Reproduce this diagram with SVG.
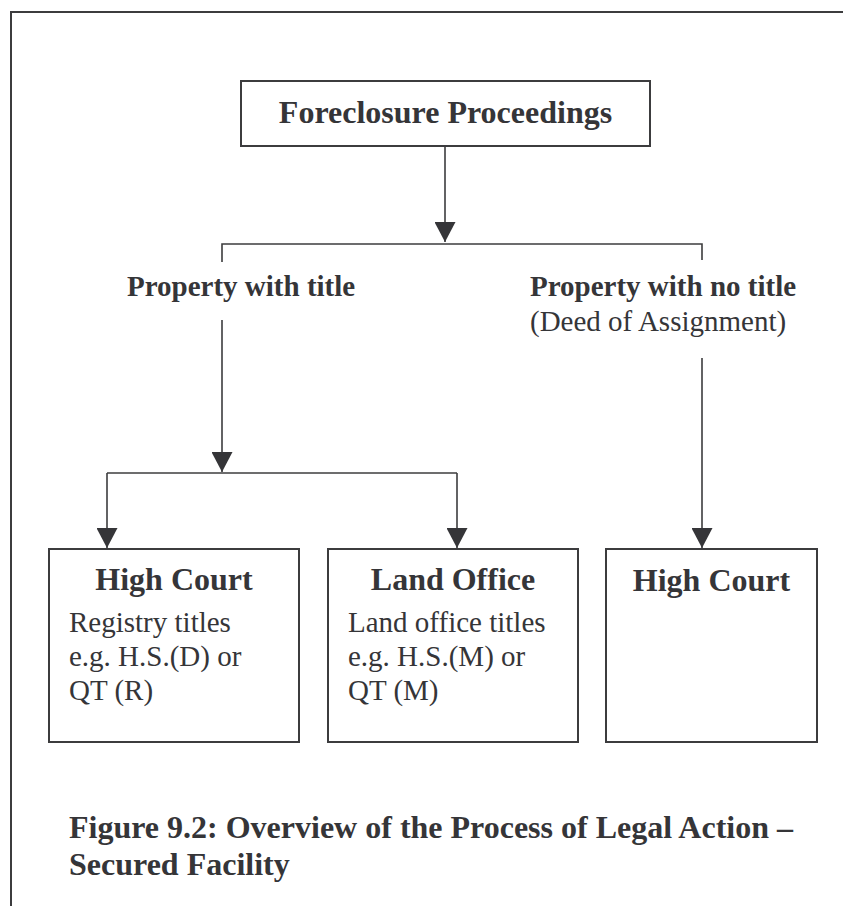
<svg xmlns="http://www.w3.org/2000/svg" width="843" height="906" viewBox="0 0 843 906">
<defs>
<marker id="arr" markerUnits="userSpaceOnUse" markerWidth="20" markerHeight="21" viewBox="0 0 20 21" refX="20" refY="10.5" orient="auto">
<path d="M0,0 L20,10.5 L0,21 Z" fill="#353538"/>
</marker>
<style>
text{font-family:"Liberation Serif","Times New Roman",serif;fill:#353538}
.b{font-weight:bold}
.t32{font-size:32px}
.t29{font-size:29px}
.box{fill:#fff;stroke:#3c3c3e;stroke-width:2}
.conn{fill:none;stroke:#3c3c3e;stroke-width:1.6}
.frame{fill:none;stroke:#3c3c3e;stroke-width:2}
</style>
</defs>
<rect width="843" height="906" fill="#fff"/>
<path class="frame" d="M11,906 V12 H843"/>
<g id="connectors">
<path class="conn" d="M445,146 V242" marker-end="url(#arr)"/>
<path class="conn" d="M222,262 V244 H702 V260"/>
<path class="conn" d="M222,320 V472" marker-end="url(#arr)"/>
<path class="conn" d="M107,473 H457"/>
<path class="conn" d="M107,473 V548" marker-end="url(#arr)"/>
<path class="conn" d="M457,473 V548" marker-end="url(#arr)"/>
<path class="conn" d="M702,358 V548" marker-end="url(#arr)"/>
</g>
<g id="foreclosure">
<rect class="box" x="241" y="81" width="409" height="65"/>
<text class="b t32" x="445.5" y="123" text-anchor="middle">Foreclosure Proceedings</text>
</g>
<g id="with-title">
<text class="b t29" x="127" y="296">Property with title</text>
</g>
<g id="no-title">
<text class="b t29" x="530" y="296">Property with no title</text>
<text class="t29" x="530" y="331">(Deed of Assignment)</text>
</g>
<g id="high-court-1">
<rect class="box" x="49" y="549" width="250" height="193"/>
<text class="b t32" x="174" y="590" text-anchor="middle">High Court</text>
<text class="t29" x="69" y="632">Registry titles</text>
<text class="t29" x="69" y="666">e.g. H.S.(D) or</text>
<text class="t29" x="69" y="700">QT (R)</text>
</g>
<g id="land-office">
<rect class="box" x="328" y="549" width="250" height="193"/>
<text class="b t32" x="453" y="590" text-anchor="middle">Land Office</text>
<text class="t29" x="348" y="632">Land office titles</text>
<text class="t29" x="348" y="666">e.g. H.S.(M) or</text>
<text class="t29" x="348" y="700">QT (M)</text>
</g>
<g id="high-court-2">
<rect class="box" x="606" y="549" width="211" height="193"/>
<text class="b t32" x="711.5" y="591" text-anchor="middle">High Court</text>
</g>
<g id="caption">
<text class="b t32" x="69" y="838">Figure 9.2: Overview of the Process of Legal Action –</text>
<text class="b t32" x="69" y="875">Secured Facility</text>
</g>
</svg>
